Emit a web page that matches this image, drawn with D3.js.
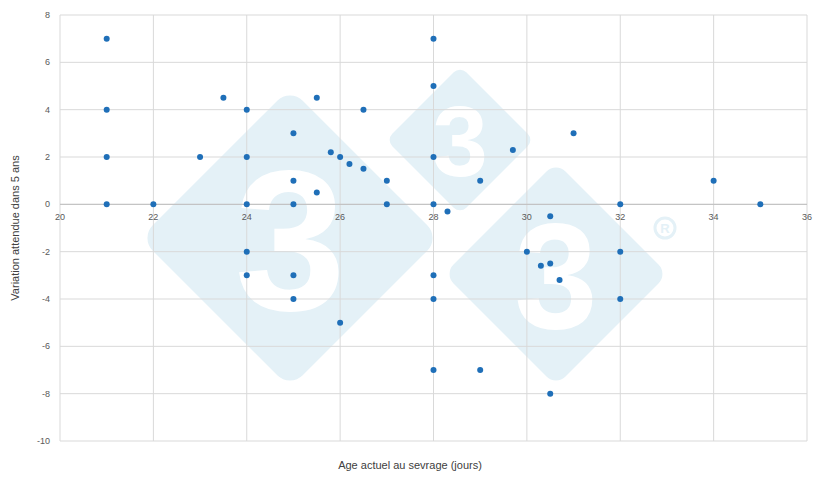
<!DOCTYPE html>
<html><head><meta charset="utf-8">
<script src="https://cdn.jsdelivr.net/npm/d3@7"></script>
<style>body{margin:0;background:#fff;font-family:"Liberation Sans",Arial,sans-serif}</style>
</head><body><svg id="c" width="820" height="487"></svg>
<script>
const xVals=[21,21,21,21,22,23,23.5,24,24,24,24,24,25,25,25,25,25,25.5,25.5,25.8,26,26.2,26.5,26.5,26,27,27,28,28,28,28,28,28,28,28.3,29,29,29.7,30,30.3,30.5,30.7,30.5,30.5,31,32,32,32,34,35];
const yVals=[7,4,2,0,0,2,4.5,4,2,0,-2,-3,3,1,0,-3,-4,4.5,0.5,2.2,2,1.7,1.5,4,-5,1,0,7,5,2,0,-3,-4,-7,-0.3,1,-7,2.3,-2,-2.6,-2.5,-3.2,-0.5,-8,3,0,-2,-4,1,0];
const xTicks=[20,22,24,26,28,30,32,34,36];
const yTicks=[-10,-8,-6,-4,-2,0,2,4,6,8];
const xTitle="Age actuel au sevrage (jours)", yTitle="Variation attendue dans 5 ans";

const svg=d3.select("#c");
const L=60,R=807,T=15,B=441;
const x=d3.scaleLinear().domain([20,36]).range([L,R]);
const y=d3.scaleLinear().domain([-10,8]).range([B,T]);

// watermark
const wm=svg.append("g");
[[290,238,150,200],[460,140,74,100],[556,274,112,150]].forEach(([cx,cy,h,fs])=>{
  const s=h*Math.SQRT2;
  wm.append("rect").attr("x",cx-s/2).attr("y",cy-s/2).attr("width",s).attr("height",s).attr("rx",h*0.12)
    .attr("transform",`rotate(45,${cx},${cy})`).attr("fill","#e4f1f7");
  wm.append("text").attr("x",cx).attr("y",cy+fs*0.36).attr("text-anchor","middle").attr("font-size",fs)
    .attr("font-weight","bold").attr("fill","#fff").attr("font-family","Liberation Sans").text("3");
});
wm.append("circle").attr("cx",665).attr("cy",228).attr("r",10).attr("fill","none").attr("stroke","#e4f1f7").attr("stroke-width",3);
wm.append("text").attr("x",665).attr("y",233).attr("text-anchor","middle").attr("font-size",13).attr("font-weight","bold").attr("fill","#e4f1f7").text("R");

// grid
svg.append("g").selectAll("line").data(yTicks).join("line")
  .attr("x1",L).attr("x2",R).attr("y1",d=>y(d)).attr("y2",d=>y(d)).attr("stroke","#d9d9d9");
svg.append("g").selectAll("line").data(xTicks).join("line")
  .attr("y1",T).attr("y2",B).attr("x1",d=>x(d)).attr("x2",d=>x(d)).attr("stroke","#d9d9d9");
svg.append("line").attr("x1",L).attr("x2",R).attr("y1",y(0)).attr("y2",y(0)).attr("stroke","#bfbfbf");

// tick labels
svg.append("g").selectAll("text").data(yTicks).join("text")
  .attr("x",L-10).attr("y",d=>y(d)+3).attr("text-anchor","end").attr("font-size",9).attr("fill","#595959").text(d=>d);
svg.append("g").selectAll("text").data(xTicks).join("text")
  .attr("x",d=>x(d)).attr("y",y(0)+16).attr("text-anchor","middle").attr("font-size",9).attr("fill","#595959").text(d=>d);

// points
svg.append("g").selectAll("circle").data(xVals.map((v,i)=>[v,yVals[i]])).join("circle")
  .attr("cx",d=>x(d[0])).attr("cy",d=>y(d[1])).attr("r",3).attr("fill","#1f6fb8");

svg.append("text").attr("x",410).attr("y",469).attr("text-anchor","middle").attr("font-size",11).attr("fill","#404040").text(xTitle);
svg.append("text").attr("transform",`translate(19,${(T+B)/2}) rotate(-90)`).attr("text-anchor","middle").attr("font-size",11).attr("fill","#404040").text(yTitle);
</script></body></html>
